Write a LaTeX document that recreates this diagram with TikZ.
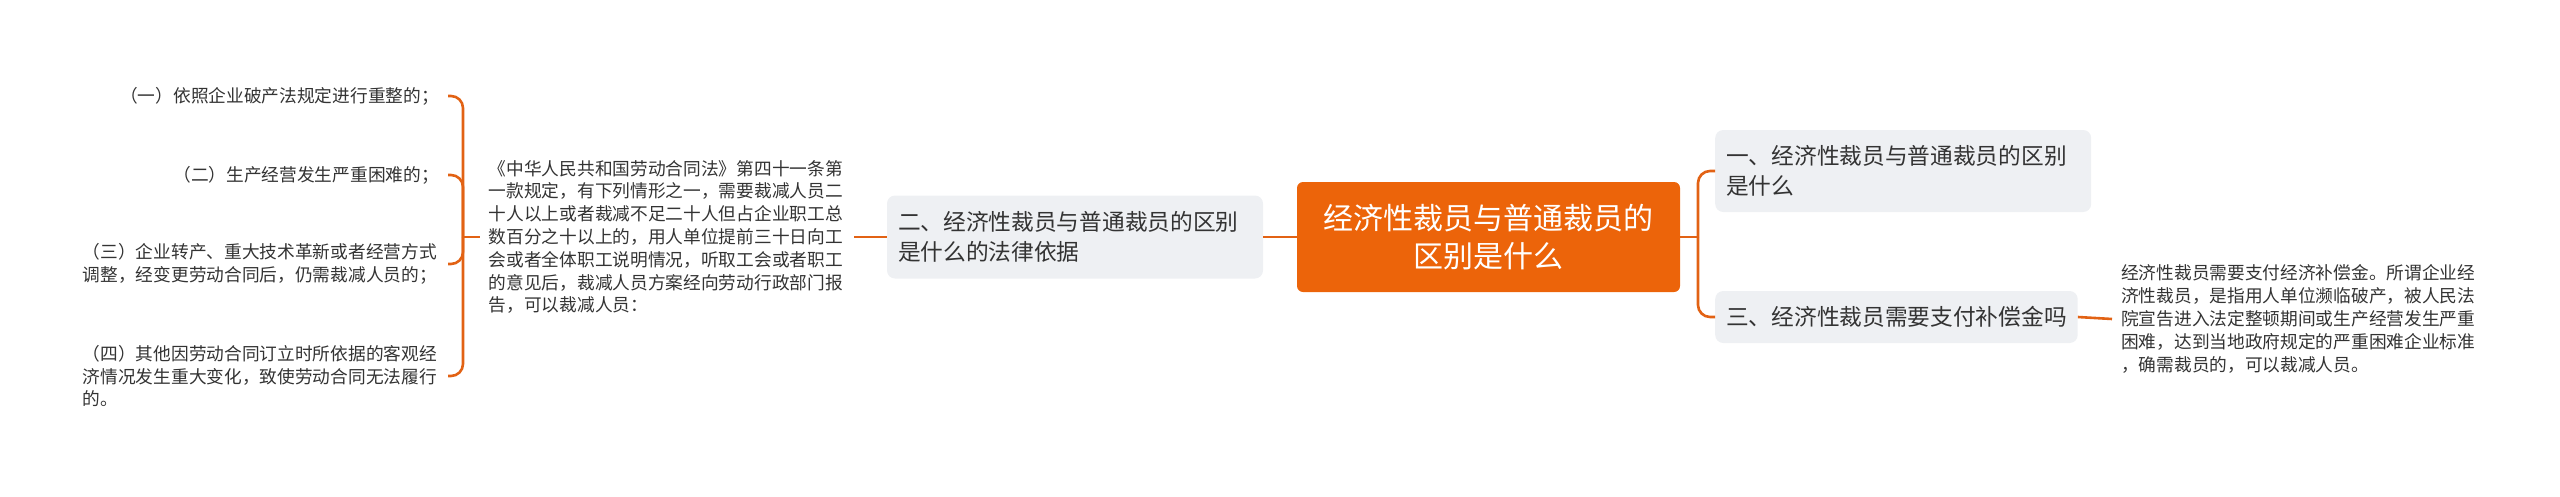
\documentclass[tikz,border=0pt]{standalone}
\usepackage{fontspec}
\setmainfont{Noto Sans CJK SC}
\usepackage{tikz}
\definecolor{rootorange}{RGB}{236,100,10}
\definecolor{linkorange}{RGB}{226,98,20}
\definecolor{boxgray}{RGB}{238,240,243}
\definecolor{textgray}{RGB}{51,51,51}

\begin{document}
\begin{tikzpicture}[x=1pt,y=-1pt,
	link/.style={draw=linkorange,line width=2.6pt},
	rootbox/.style={fill=rootorange,rounded corners=6pt,text=white,font=\fontsize{30}{38}\selectfont,align=center,minimum width=383pt,minimum height=110pt,inner sep=0pt},
	topicbox/.style={fill=boxgray,rounded corners=8pt,text=textgray,font=\fontsize{22.7}{30}\selectfont,align=left,inner xsep=11pt,inner ysep=0pt},
	leaftext/.style={text=textgray,font=\fontsize{17.7}{22.8}\selectfont,align=left,inner xsep=9pt,inner ysep=0pt}]
	\useasboundingbox (0,0) rectangle (2560,496);
	\node[rootbox] (root) at (1488.5,237) {经济性裁员与普通裁员的\\区别是什么};
	\node[topicbox,text width=354pt,minimum height=83pt] (legal) at (1075,237) {二、经济性裁员与普通裁员的区别\\是什么的法律依据};
	\node[topicbox,text width=354pt,minimum height=82pt,anchor=west] (diff) at (1715,171) {一、经济性裁员与普通裁员的区别\\是什么};
	\node[topicbox,minimum height=52pt,anchor=west] (comp) at (1715,317) {三、经济性裁员需要支付补偿金吗};
	\node[leaftext,text width=356pt,anchor=east] (law) at (854,237) {《中华人民共和国劳动合同法》第四十一条第\\一款规定，有下列情形之一，需要裁减人员二\\十人以上或者裁减不足二十人但占企业职工总\\数百分之十以上的，用人单位提前三十日向工\\会或者全体职工说明情况，听取工会或者职工\\的意见后，裁减人员方案经向劳动行政部门报\\告，可以裁减人员：};
	\node[leaftext,anchor=east] (case1) at (448,96) {（一）依照企业破产法规定进行重整的；};
	\node[leaftext,anchor=east] (case2) at (448,175) {（二）生产经营发生严重困难的；};
	\node[leaftext,text width=356pt,anchor=east] (case3) at (448,264) {（三）企业转产、重大技术革新或者经营方式\\调整，经变更劳动合同后，仍需裁减人员的；};
	\node[leaftext,text width=356pt,anchor=east] (case4) at (448,376) {（四）其他因劳动合同订立时所依据的客观经\\济情况发生重大变化，致使劳动合同无法履行\\的。};
	\node[leaftext,text width=356pt,anchor=west] (pay) at (2112,319) {经济性裁员需要支付经济补偿金。所谓企业经\\济性裁员，是指用人单位濒临破产，被人民法\\院宣告进入法定整顿期间或生产经营发生严重\\困难，达到当地政府规定的严重困难企业标准\\，确需裁员的，可以裁减人员。};
	\coordinate (rspine) at (1698,237);
	\coordinate (lspine) at (463,237);
	\draw[link] (root.west) -- (legal.east);
	\draw[link] (legal.west) -- (law.east);
	\draw[link] (root.east) -- (rspine);
	\draw[link,rounded corners=12pt] (rspine) |- (diff.west);
	\draw[link,rounded corners=12pt] (rspine) |- (comp.west);
	\draw[link] (comp.east) -- (pay.west);
	\draw[link] (law.west) -- (lspine);
	\draw[link,rounded corners=12pt] (lspine) |- (case1.east);
	\draw[link,rounded corners=12pt] (lspine) |- (case2.east);
	\draw[link,rounded corners=12pt] (lspine) |- (case3.east);
	\draw[link,rounded corners=12pt] (lspine) |- (case4.east);
\end{tikzpicture}
\end{document}
